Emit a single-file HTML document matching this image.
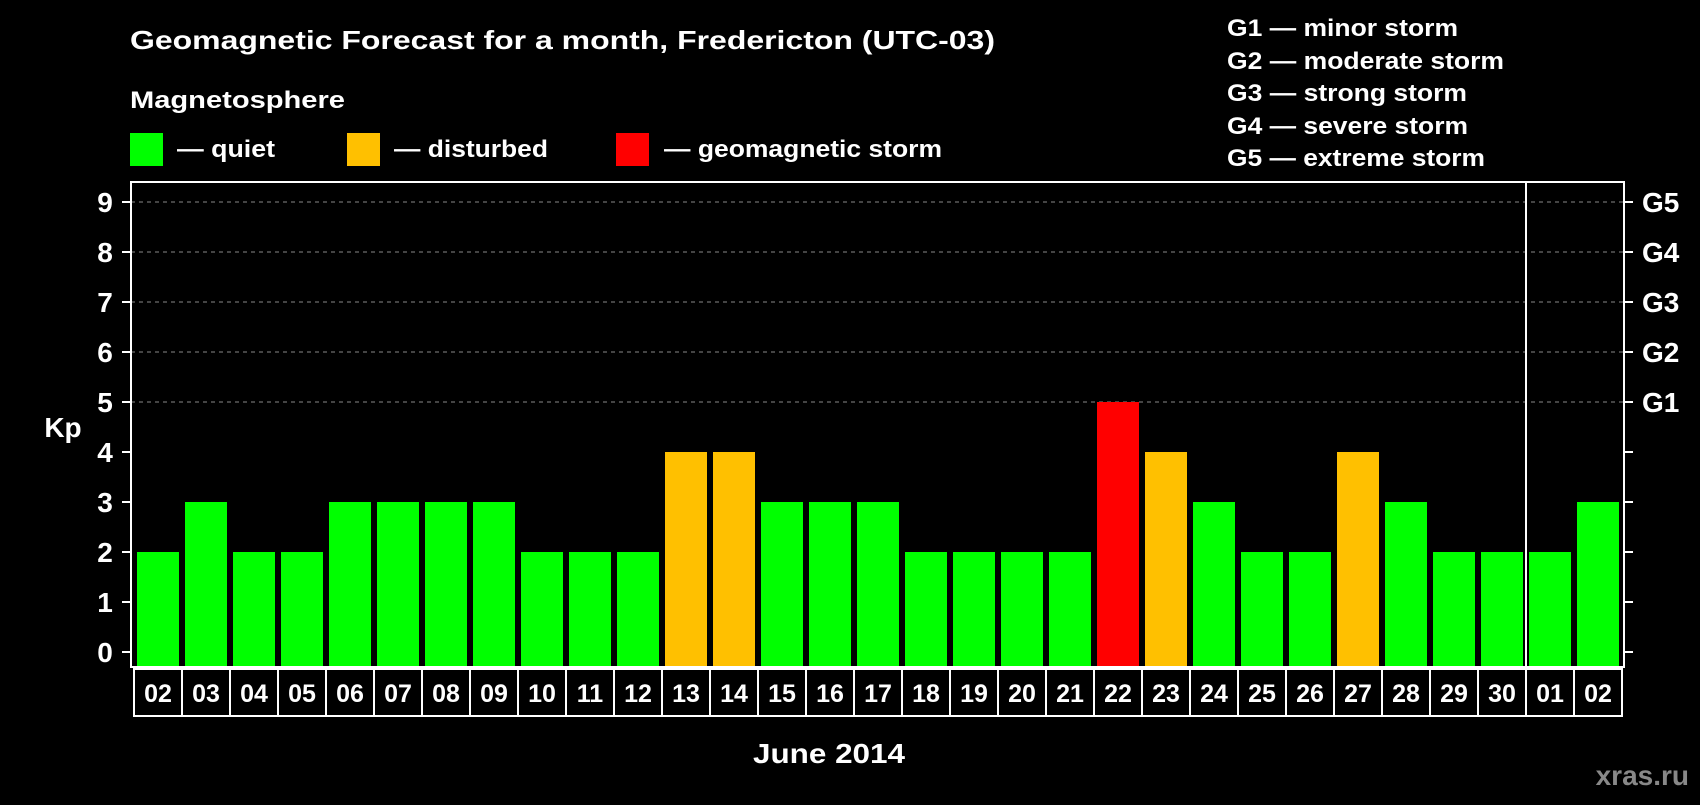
<!DOCTYPE html>
<html><head><meta charset="utf-8"><style>
body{margin:0;background:#000;width:1700px;height:800px;overflow:hidden}
svg text{font-family:"Liberation Sans",sans-serif;font-weight:bold;fill:#fff}
</style></head><body>
<svg id="c" width="1700" height="800">
<text x="130" y="49" font-size="26" textLength="865" lengthAdjust="spacingAndGlyphs">Geomagnetic Forecast for a month, Fredericton (UTC-03)</text>
<text x="130" y="108" font-size="24" textLength="215" lengthAdjust="spacingAndGlyphs">Magnetosphere</text>
<rect x="130" y="133" width="33" height="33" fill="#00ff00"/>
<text x="177" y="157" font-size="24" textLength="98" lengthAdjust="spacingAndGlyphs">— quiet</text>
<rect x="347" y="133" width="33" height="33" fill="#ffc000"/>
<text x="394" y="157" font-size="24" textLength="154" lengthAdjust="spacingAndGlyphs">— disturbed</text>
<rect x="616" y="133" width="33" height="33" fill="#ff0000"/>
<text x="664" y="157" font-size="24" textLength="278" lengthAdjust="spacingAndGlyphs">— geomagnetic storm</text>
<g font-size="24">
<text x="1227" y="36" textLength="231" lengthAdjust="spacingAndGlyphs">G1 — minor storm</text>
<text x="1227" y="69" textLength="277" lengthAdjust="spacingAndGlyphs">G2 — moderate storm</text>
<text x="1227" y="101" textLength="240" lengthAdjust="spacingAndGlyphs">G3 — strong storm</text>
<text x="1227" y="134" textLength="241" lengthAdjust="spacingAndGlyphs">G4 — severe storm</text>
<text x="1227" y="166" textLength="258" lengthAdjust="spacingAndGlyphs">G5 — extreme storm</text>
</g>
<text x="63" y="437" font-size="28" text-anchor="middle">Kp</text>
<text x="829" y="763" font-size="28" text-anchor="middle" textLength="152" lengthAdjust="spacingAndGlyphs">June 2014</text>
<text x="1689" y="785" font-size="28" text-anchor="end" style="fill:#888">xras.ru</text>
<g id="g"></g>
</svg>
<script>
const days=["02","03","04","05","06","07","08","09","10","11","12","13","14","15","16","17","18","19","20","21","22","23","24","25","26","27","28","29","30","01","02"];
const kp=[2,3,2,2,3,3,3,3,2,2,2,4,4,3,3,3,2,2,2,2,5,4,3,2,2,4,3,2,2,2,3];
const yTicks=[0,1,2,3,4,5,6,7,8,9];
const gLabels=["G1","G2","G3","G4","G5"];
const NS="http://www.w3.org/2000/svg",g=document.getElementById('g');
const L=131,R=1624,T=182,B=667,x0=137,pitch=48,bw=42;
const y=v=>652-v*50;
function el(t,a){const e=document.createElementNS(NS,t);for(const k in a)e.setAttribute(k,a[k]);g.appendChild(e);return e;}
yTicks.forEach(v=>{
 if(v>=5){const l=el('line',{x1:L,x2:R,y1:y(v),y2:y(v),stroke:'#888','stroke-dasharray':'4,4','stroke-width':1});
 
 }
 const a=el('line',{x1:122,x2:L,y1:y(v),y2:y(v),stroke:'#fff','stroke-width':2});
 
 
 const b=el('line',{x1:R,x2:1633,y1:y(v),y2:y(v),stroke:'#fff','stroke-width':2});
 
 
 const t=el('text',{x:105,y:y(v)+10,'font-size':28,'text-anchor':'middle'});t.textContent=v;
 
 
});
gLabels.forEach((s,i)=>{const t=el('text',{x:1642,y:y(5+i)+10,'font-size':28});t.textContent=s;
 
 });
kp.forEach((v,i)=>{
 const c=v>=5?'#ff0000':v>=4?'#ffc000':'#00ff00';
 const r=el('rect',{x:x0+i*pitch,y:y(v),width:bw,height:B-y(v),fill:c});
 
 
 const bx=el('rect',{x:x0-3+i*pitch,y:B+2,width:pitch,height:47,fill:'none',stroke:'#fff','stroke-width':2});
 
 
 const t=el('text',{x:x0+bw/2+i*pitch,y:B+35,'font-size':25,'text-anchor':'middle'});t.textContent=days[i];
 
 
});
const f=el('rect',{x:L,y:T,width:R-L,height:B-T,fill:'none',stroke:'#fff','stroke-width':2});


const sx=x0+29*pitch-3;
const s=el('line',{x1:sx,x2:sx,y1:T,y2:B+49,stroke:'#fff','stroke-width':2});


</script>
</body></html>
